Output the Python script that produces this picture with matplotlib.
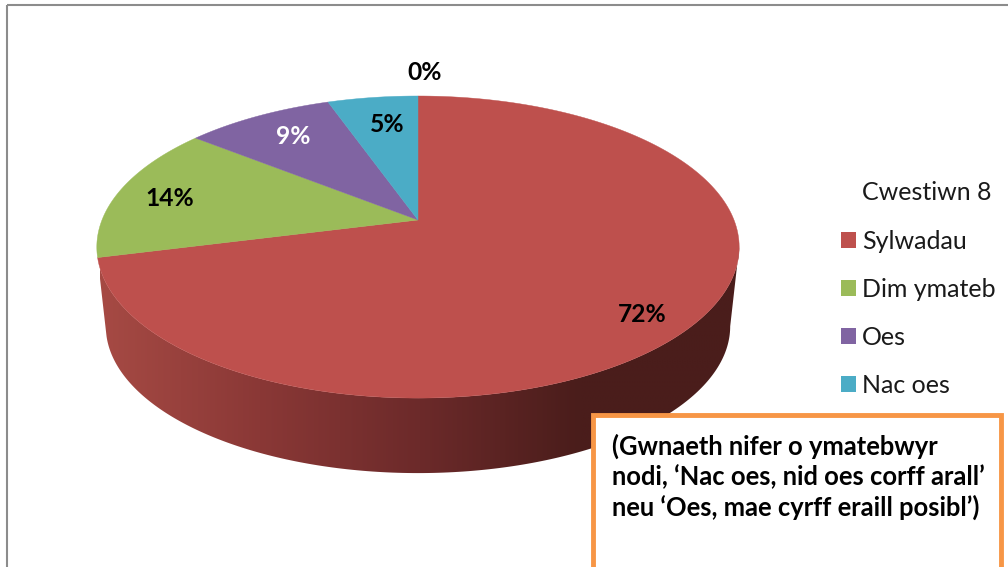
import numpy as np
import matplotlib
matplotlib.use('Agg')
import matplotlib.pyplot as plt
from matplotlib.colors import LinearSegmentedColormap
from matplotlib.patches import Patch, Polygon, Rectangle

plt.rcParams['font.family'] = ['Lato', 'DejaVu Sans']

categories = ['Sylwadau', 'Dim ymateb', 'Oes', 'Nac oes']
shares = [71.05, 14.65, 8.9, 5.4]
pct_labels = ['72%', '14%', '9%', '5%']
label_colors = ['black', 'black', 'white', 'black']
colors = ['#BE504D', '#9BBB59', '#8064A2', '#4BACC6']
legend_title = 'Cwestiwn 8'
note = '(Gwnaeth nifer o ymatebwyr\nnodi, ‘Nac oes, nid oes corff arall’\nneu ‘Oes, mae cyrff eraill posibl’)'

# Projection of the tilted disc onto the page (in pixels)
cx, cy = 418, 220
a, b, k = 316, 146.2, 0.179
wall_cy, wall_scale = 300, 0.972


def project(theta, scale=1.0, y0=cy):
    # theta runs clockwise from the top of the disc
    w = 1 + k * np.cos(theta)
    return cx + scale * a * np.sin(theta) / w, y0 - scale * b * np.cos(theta) / w


fig = plt.figure(figsize=(10.08, 5.67), dpi=100)
ax = fig.add_axes([0, 0, 1, 1])
ax.axis('off')

# Outer chart frame, runs off the right and bottom of the picture
ax.add_patch(Rectangle((7, 5), 1100, 700, fill=False, edgecolor='#8C8C8C', linewidth=1.5))

# Side wall of the red slice: gradient clipped to the rim outline
edges = np.cumsum([0] + shares) / 100 * 2 * np.pi
rim = np.linspace(np.arccos(-k), edges[1], 200)
top_x, top_y = project(rim)
low_x, low_y = project(rim, wall_scale, wall_cy)
outline = np.c_[np.r_[top_x, low_x[::-1]], np.r_[top_y, low_y[::-1]]]
wall_cmap = LinearSegmentedColormap.from_list('wall', ['#A64A44', '#8A3836', '#6C2A2A', '#4A1D1B', '#4A1D1B'])
wall = ax.imshow(np.linspace(0, 1, 256)[None, :], cmap=wall_cmap, aspect='auto',
                 extent=(100, 740, 480, 240), zorder=1)
wall.set_clip_path(Polygon(outline, closed=True, transform=ax.transData))

# Top of the pie
for i, color in enumerate(colors):
    t = np.linspace(edges[i], edges[i + 1], 200)
    x, y = project(t)
    ax.fill(np.r_[cx, x], np.r_[cy, y], color=color, linewidth=0.3, zorder=2)

ax.set_xlim(0, 1008)
ax.set_ylim(567, 0)

# Data labels
label_pos = [(642, 315), (170, 199), (293, 137), (387, 125)]
for (lx, ly), txt, col in zip(label_pos, pct_labels, label_colors):
    ax.text(lx, ly, txt, color=col, fontsize=17.7, fontweight='bold', ha='center', va='center', zorder=3)
ax.text(425, 73, '0%', color='black', fontsize=17.7, fontweight='bold', ha='center', va='center')

# Legend
handles = [Patch(facecolor=c, edgecolor='none') for c in colors]
leg = ax.legend(handles, categories, frameon=False, loc='upper left',
                bbox_to_anchor=(841, 230), bbox_transform=ax.transData, fontsize=18,
                labelspacing=1.0, handlelength=0.6, handleheight=0.6, handletextpad=0.24,
                borderpad=0, borderaxespad=0)
for t in leg.get_texts():
    t.set_color('#1a1a1a')
ax.text(862, 192, legend_title, fontsize=18, color='#1a1a1a', ha='left', va='center')

# Note box
ax.add_patch(Rectangle((593, 415), 408, 300, facecolor='white', edgecolor='#F79646',
                       linewidth=3.5, zorder=5))
ax.text(612, 477, note, fontsize=18.4, fontweight='bold', color='black', ha='left', va='center',
        linespacing=1.25, zorder=6)

fig.savefig('out.png', dpi=100)
